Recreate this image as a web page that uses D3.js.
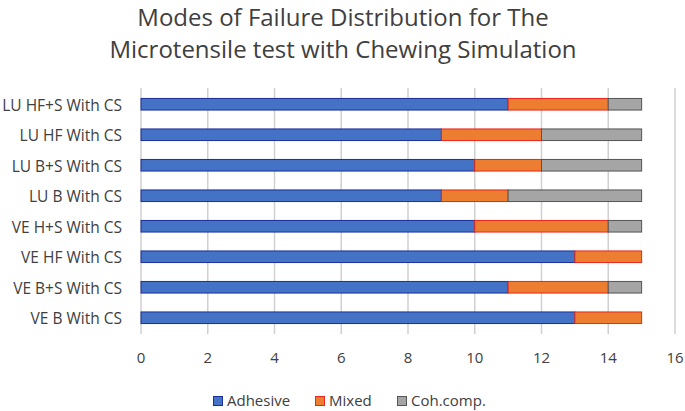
<!DOCTYPE html>
<html>
<head>
    <meta charset="utf-8">
    <style>
        body { margin: 0; background: #fff; }
        svg { font-family: 'Open Sans', 'Liberation Sans', sans-serif; }
    </style>
</head>
<body>
<svg width="685" height="411"></svg>
<script src="https://d3js.org/d3.v7.min.js"></script>
<script>
    // data (top to bottom)
    let categories = ["LU HF+S With CS", "LU HF With CS", "LU B+S With CS", "LU B With CS",
        "VE H+S With CS", "VE HF With CS", "VE B+S With CS", "VE B With CS"]
    let adhesive = [11, 9, 10, 9, 10, 13, 11, 13]
    let mixed = [3, 3, 2, 2, 4, 2, 3, 2]
    let cohComp = [1, 3, 3, 4, 1, 0, 1, 0]
    let seriesNames = ["Adhesive", "Mixed", "Coh.comp."]
    let xTicks = [0, 2, 4, 6, 8, 10, 12, 14, 16]
    let titleLines = ["Modes of Failure Distribution for The", "Microtensile test with Chewing Simulation"]

    let fills = ["#4472C4", "#ED7D31", "#A5A5A5"]
    let strokes = ["#1b2f9a", "#e8261b", "#555555"]

    let svg = d3.select("svg")

    let rows = categories.map((c, i) => ({
        cat: c, Adhesive: adhesive[i], Mixed: mixed[i], "Coh.comp.": cohComp[i]
    }))
    let stacked = d3.stack().keys(seriesNames)(rows)

    let x = d3.scaleLinear().domain([0, 16]).range([141, 675])
    let y = d3.scaleBand().domain(categories).range([89, 333]).paddingInner(0.62).paddingOuter(0.31)

    // title
    svg.selectAll(".title")
        .data(titleLines)
        .join("text")
        .attr("x", 343)
        .attr("y", (d, i) => 26 + i * 32)
        .attr("text-anchor", "middle")
        .style("font-size", "24px").style("fill", "#404040")
        .text(d => d)

    // gridlines
    svg.selectAll(".grid")
        .data(xTicks)
        .join("line")
        .attr("x1", d => x(d)).attr("x2", d => x(d))
        .attr("y1", 88).attr("y2", 334)
        .style("stroke", "#d0d0d0").style("stroke-width", 1.5)

    // bars
    svg.selectAll(".series")
        .data(stacked)
        .join("g")
        .style("fill", (d, i) => fills[i])
        .style("stroke", (d, i) => strokes[i])
        .style("stroke-width", 1)
        .selectAll("rect")
        .data(d => d.filter(p => p[1] > p[0]))
        .join("rect")
        .attr("x", d => x(d[0]))
        .attr("width", d => x(d[1]) - x(d[0]))
        .attr("y", d => y(d.data.cat))
        .attr("height", y.bandwidth())

    // category labels
    svg.selectAll(".cat")
        .data(categories)
        .join("text")
        .attr("x", 122)
        .attr("y", d => y(d) + y.bandwidth() / 2 + 6.5)
        .attr("text-anchor", "end")
        .style("font-size", "15.5px").style("fill", "#404040")
        .text(d => d)

    // x tick labels
    svg.selectAll(".tick-label")
        .data(xTicks)
        .join("text")
        .attr("x", d => x(d))
        .attr("y", 363)
        .attr("text-anchor", "middle")
        .style("font-size", "15px").style("fill", "#404040")
        .text(d => d)

    // legend
    let legendX = [213, 315, 397]
    let legend = svg.selectAll(".legend")
        .data(seriesNames)
        .join("g")
        .attr("transform", (d, i) => `translate(${legendX[i]},406)`)
    legend.append("rect")
        .attr("x", 0.5).attr("y", -9.5)
        .attr("width", 9).attr("height", 9)
        .style("fill", (d, i) => fills[i])
        .style("stroke", (d, i) => strokes[i])
    legend.append("text")
        .attr("x", 14).attr("y", 0)
        .style("font-size", "15px").style("fill", "#404040")
        .text(d => d)
</script>
</body>
</html>
